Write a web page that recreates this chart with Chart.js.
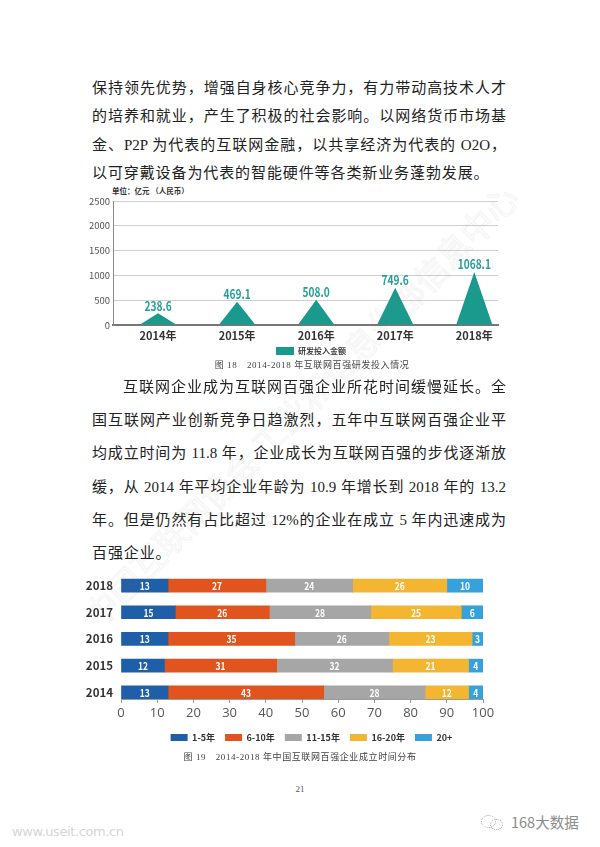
<!DOCTYPE html>
<html lang="zh-CN">
<head>
<meta charset="utf-8">
<title>互联网百强企业</title>
<script src="https://cdn.jsdelivr.net/npm/chart.js@4.4.1/dist/chart.umd.min.js"></script>
<style>
  html, body { margin: 0; padding: 0; background: #fff; }
  body { width: 600px; height: 847px; position: relative; overflow: hidden; }
  .para { position: absolute; left: 92px; width: 414px; font-family: "Liberation Serif", "Noto Sans CJK SC", serif; font-size: 15px; color: #222; }
  .para div { text-align: justify; text-align-last: justify; overflow: hidden; }
  .para div.last { text-align-last: left; letter-spacing: 0.9px; }
  #p1 { top: 73.75px; }
  #p1 div { height: 28.5px; line-height: 28.5px; }
  #p2 { top: 370.85px; }
  #p2 div { height: 33.3px; line-height: 33.3px; }
  #p2 div.indent { text-indent: 31px; }
  canvas { position: absolute; left: 80px; }
  #chart-rd { top: 190px; }
  #chart-age { top: 560px; }
  .unit { position: absolute; left: 112px; top: 185px; font: bold 7.5px "Noto Sans CJK SC", sans-serif; color: #333; line-height: 12px; }
  .caption { position: absolute; left: 0; width: 600px; text-align: center; font-family: "Liberation Serif", "Noto Sans CJK SC", serif; font-size: 9px; color: #444; line-height: 12px; letter-spacing: 0.6px; }
  .pageno { position: absolute; left: 0; width: 600px; top: 784px; text-align: center; font: 9px "Liberation Serif", serif; color: #555; }
  .site { position: absolute; left: 12px; top: 824px; font: 13px "DejaVu Sans", sans-serif; color: #d6d6d6; letter-spacing: -0.4px; }
  .brand { position: absolute; left: 511px; top: 812px; font: 14.5px "Noto Sans CJK SC", sans-serif; color: #8c8c8c; line-height: 20px; }
  .logo { position: absolute; left: 481px; top: 814px; width: 22px; height: 16px; }
  .logo span { position: absolute; border: 1px dotted #aaa; border-radius: 50%; }
  .watermark { position: absolute; left: 300px; top: 405px; transform: translate(-50%, -50%) rotate(-45.5deg); white-space: nowrap; font: 33px "Noto Sans CJK SC", sans-serif; color: rgba(0,0,0,0.01); -webkit-text-stroke: 0.7px rgba(140,140,140,0.16); pointer-events: none; }
</style>
</head>
<body>

<div class="para" id="p1">
  <div>保持领先优势，增强自身核心竞争力，有力带动高技术人才</div>
  <div>的培养和就业，产生了积极的社会影响。以网络货币市场基</div>
  <div>金、P2P 为代表的互联网金融，以共享经济为代表的 O2O，</div>
  <div class="last">以可穿戴设备为代表的智能硬件等各类新业务蓬勃发展。</div>
</div>

<div class="unit">单位：亿元 （人民币）</div>
<canvas id="chart-rd" width="462" height="175"></canvas>
<div class="caption" style="top:358.5px; padding-left:12px;">图 18　2014-2018 年互联网百强研发投入情况</div>

<div class="para" id="p2">
  <div class="indent">互联网企业成为互联网百强企业所花时间缓慢延长。全</div>
  <div>国互联网产业创新竞争日趋激烈，五年中互联网百强企业平</div>
  <div>均成立时间为 11.8 年，企业成长为互联网百强的步伐逐渐放</div>
  <div>缓，从 2014 年平均企业年龄为 10.9 年增长到 2018 年的 13.2</div>
  <div>年。但是仍然有占比超过 12%的企业在成立 5 年内迅速成为</div>
  <div class="last">百强企业。</div>
</div>

<canvas id="chart-age" width="463" height="192"></canvas>
<div class="caption" style="top:751px;">图 19　2014-2018 年中国互联网百强企业成立时间分布</div>

<div class="pageno">21</div>
<div class="site">www.useit.com.cn</div>
<div class="logo"><span style="left:0;top:1px;width:13px;height:11px;"></span><span style="left:9px;top:5px;width:11px;height:9px;"></span></div>
<div class="brand">168大数据</div>

<div class="watermark">中国互联网协会 工业和信息化部信息中心</div>

<script>
// 图18 研发投入
const rdYears = ["2014年", "2015年", "2016年", "2017年", "2018年"]
const rdValues = [238.6, 469.1, 508.0, 749.6, 1068.1]

// 图19 成立时间分布 (2014 -> 2018)
const ageYears = ["2014", "2015", "2016", "2017", "2018"]
const ageGroups = ["1-5年", "6-10年", "11-15年", "16-20年", "20+"]
const age1to5 = [13, 12, 13, 15, 13]
const age6to10 = [43, 31, 35, 26, 27]
const age11to15 = [28, 32, 26, 28, 24]
const age16to20 = [12, 21, 23, 25, 26]
const age20plus = [4, 4, 3, 6, 10]

const ageSeries = [age1to5, age6to10, age11to15, age16to20, age20plus]
const ageColors = ["#1f5ea8", "#e1541d", "#a6a6a6", "#f4b530", "#37a1db"]

Chart.defaults.font.family = '"Noto Sans CJK SC", "Open Sans", sans-serif'
Chart.defaults.animation = false
Chart.defaults.events = []

// squeezed bold text, the labels in the picture use a condensed face
function narrowText(ctx, text, x, y, squeeze) {
    ctx.save()
    ctx.translate(x, y)
    ctx.scale(squeeze, 1)
    ctx.fillText(text, 0, 0)
    ctx.restore()
}

// bars are drawn as triangles (base -> value)
const triangleBars = {
    id: "triangleBars",
    beforeDatasetDraw(chart, args) {
        const ctx = chart.ctx
        const ds = chart.data.datasets[args.index]
        ctx.save()
        ctx.fillStyle = ds.backgroundColor
        for (const bar of args.meta.data) {
            const { x, y, base, width } = bar.getProps(["x", "y", "base", "width"], true)
            ctx.beginPath()
            ctx.moveTo(x - width / 2, base)
            ctx.lineTo(x, y)
            ctx.lineTo(x + width / 2, base)
            ctx.closePath()
            ctx.fill()
        }
        ctx.restore()
        return false
    }
}

const rdLabels = {
    id: "rdLabels",
    afterDatasetsDraw(chart) {
        const ctx = chart.ctx
        ctx.save()
        ctx.font = 'bold 13px "Noto Sans CJK SC", sans-serif'
        ctx.fillStyle = "#26a093"
        ctx.textAlign = "center"
        ctx.textBaseline = "bottom"
        chart.getDatasetMeta(0).data.forEach((bar, i) => {
            narrowText(ctx, rdValues[i].toFixed(1), bar.x, bar.y - 1, 0.78)
        })
        ctx.restore()
    }
}

const segmentLabels = {
    id: "segmentLabels",
    afterDatasetsDraw(chart) {
        const ctx = chart.ctx
        ctx.save()
        ctx.font = 'bold 10px "Noto Sans CJK SC", sans-serif'
        ctx.fillStyle = "#fff"
        ctx.textAlign = "center"
        ctx.textBaseline = "middle"
        chart.data.datasets.forEach((ds, k) => {
            chart.getDatasetMeta(k).data.forEach((bar, i) => {
                const { x, y, base } = bar.getProps(["x", "y", "base"], true)
                narrowText(ctx, String(ageSeries[k][i]), (x + base) / 2, y + 0.5, 0.85)
            })
        })
        ctx.restore()
    }
}

new Chart(document.getElementById("chart-rd"), {
    type: "bar",
    data: {
        datasets: [{
            label: "研发投入金额",
            data: rdValues.map((v, i) => ({ x: i, y: v })),
            backgroundColor: "#199a8c",
            barThickness: 36
        }]
    },
    options: {
        responsive: false,
        layout: { padding: { top: 11 } },
        scales: {
            x: {
                type: "linear",
                offset: false,
                bounds: "data",
                min: -0.57,
                max: 4.3,
                grid: { display: false, drawTicks: false },
                border: { color: "#777", width: 2 },
                ticks: {
                    padding: 4,
                    color: "#333",
                    font: { size: 11, weight: "bold" },
                    callback: (v) => rdYears[v] ?? null
                },
                afterBuildTicks: (s) => { s.ticks = rdYears.map((_, i) => ({ value: i })) },
                afterFit: (s) => { s.height = 20; s.paddingRight = 44 }
            },
            y: {
                min: 0,
                max: 2500,
                ticks: { stepSize: 500, padding: 3, color: "#555", font: { size: 9.5 }, callback: (v) => String(v) },
                grid: { color: "#cfcfcf", drawTicks: false },
                border: { color: "#888", width: 1 },
                afterFit: (s) => { s.width = 33 }
            }
        },
        plugins: {
            legend: {
                position: "bottom",
                labels: { boxWidth: 18, boxHeight: 8, padding: 2, color: "#444", font: { size: 8, weight: "bold" } }
            },
            tooltip: { enabled: false }
        }
    },
    plugins: [triangleBars, rdLabels]
})

new Chart(document.getElementById("chart-age"), {
    type: "bar",
    data: {
        datasets: ageGroups.map((group, k) => ({
            label: group,
            data: ageSeries[k].map((v, i) => ({ x: v, y: i })),
            backgroundColor: ageColors[k],
            barThickness: 13
        }))
    },
    options: {
        responsive: false,
        indexAxis: "y",
        layout: { padding: { top: 10.5 } },
        scales: {
            x: {
                stacked: true,
                min: 0,
                max: 100,
                grid: { drawOnChartArea: false, tickLength: 4, color: "#999" },
                border: { color: "#999" },
                ticks: { stepSize: 10, padding: 2, color: "#555", font: { size: 13, family: '"Open Sans", sans-serif' } },
                afterFit: (s) => { s.height = 24; s.paddingRight = 60 }
            },
            y: {
                type: "linear",
                stacked: true,
                offset: false,
                bounds: "data",
                min: -0.25,
                max: 4.4,
                grid: { display: false, drawTicks: false },
                border: { display: false },
                ticks: {
                    padding: 8,
                    color: "#333",
                    font: { size: 11.5, weight: "bold" },
                    callback: (v) => ageYears[v] ?? null
                },
                afterBuildTicks: (s) => { s.ticks = ageYears.map((_, i) => ({ value: i })) },
                afterFit: (s) => { s.width = 41 }
            }
        },
        plugins: {
            legend: {
                position: "bottom",
                labels: { boxWidth: 17, boxHeight: 7, padding: 10, color: "#333", font: { size: 9, weight: "bold" } }
            },
            tooltip: { enabled: false }
        }
    },
    plugins: [segmentLabels]
})
</script>
</body>
</html>
